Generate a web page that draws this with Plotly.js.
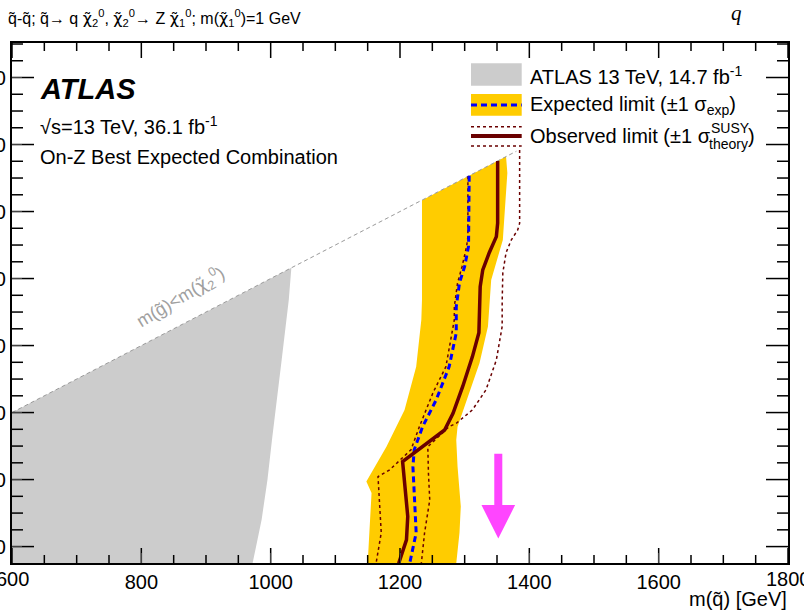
<!DOCTYPE html>
<html><head><meta charset="utf-8">
<script src="https://cdn.plot.ly/plotly-3.0.1.min.js"></script>
<style>html,body{margin:0;padding:0;background:#fff;}#chart{width:804px;height:611px;}</style>
</head><body><div id="chart"></div>
<script>
// ---- data (GeV) ----
const grayX = [600, 600, 1032, 1028, 1017, 1009, 1002, 995, 986, 972];
const grayY = [150, 600, 1032, 936, 757, 638, 518, 399, 280, 150];

const bandLeftX = [1150, 1153, 1156, 1148, 1179, 1207, 1225, 1233, 1234, 1234];
const bandLeftY = [150, 240, 360, 394, 498, 608, 737, 877, 936, 1234];
const bandRightX = [1364, 1366, 1359, 1341, 1338, 1336, 1323, 1307, 1289, 1287, 1289, 1294, 1292, 1287];
const bandRightY = [1364, 1315, 1115, 996, 907, 857, 748, 659, 558, 518, 439, 320, 241, 150];

const expX = [1307, 1307, 1306, 1300, 1292, 1287, 1287, 1276, 1256, 1235, 1222, 1220, 1222, 1225, 1215];
const expY = [1307, 1125, 1096, 1036, 987, 916, 838, 737, 638, 558, 489, 439, 339, 241, 150];

const obsX = [1351, 1351, 1349, 1338, 1328, 1324, 1323, 1322, 1312, 1297, 1282, 1269, 1204, 1207, 1212, 1210, 1198];
const obsY = [1351, 1165, 1125, 1077, 1026, 976, 907, 838, 767, 678, 598, 548, 454, 390, 290, 220, 150];

const obsUpX = [1385, 1385, 1382, 1372, 1364, 1359, 1358, 1358, 1349, 1333, 1312, 1287, 1276, 1243, 1244, 1246, 1238, 1233];
const obsUpY = [1384, 1165, 1145, 1115, 1077, 1017, 930, 857, 757, 668, 608, 568, 558, 498, 419, 339, 241, 150];

const obsDnX = [1305, 1305, 1303, 1296, 1289, 1284, 1284, 1271, 1251, 1230, 1217, 1184, 1166, 1168, 1171, 1163];
const obsDnY = [1305, 1125, 1096, 1036, 987, 916, 877, 737, 659, 558, 489, 429, 409, 339, 241, 150];

const diagX = [600, 1380];
const diagY = [600, 1380];

const arrowX = 1352, arrowTop = 477, arrowHeadBase = 324, arrowTip = 224;

const xRange = [600, 1800];
const yRange = [151, 1703];
const majorStep = 200, minorStep = 50;
const xEdgeLabels = ['600', '1800'];

// ---- layout helpers ----
const W = 804, H = 611, mL = 12, mR = 16, mT = 43, mB = 48;
const pw = W - mL - mR, ph = H - mT - mB;
const px = v => (v - mL) / pw;
const py = v => (H - mB - v) / ph;
const FONT = 'Liberation Sans, Arial, sans-serif';
const DARKRED = '#6a0000';

const bandX = bandLeftX.concat(bandRightX);
const bandY = bandLeftY.concat(bandRightY);

// tick marks, ROOT style: inside on all four sides
const xSpan = xRange[1] - xRange[0], ySpan = yRange[1] - yRange[0];
const tickX = [], tickY = [];
for (let v = Math.ceil(xRange[0] / minorStep) * minorStep; v <= xRange[1]; v += minorStep) {
  const len = (v % majorStep === 0 ? 15 : 8) / ph * ySpan;
  tickX.push(v, v, null, v, v, null);
  tickY.push(yRange[0], yRange[0] + len, null, yRange[1], yRange[1] - len, null);
}
for (let v = Math.ceil(yRange[0] / minorStep) * minorStep; v <= yRange[1]; v += minorStep) {
  const len = (v % majorStep === 0 ? 22 : 11) / pw * xSpan;
  tickX.push(xRange[0], xRange[0] + len, null, xRange[1], xRange[1] - len, null);
  tickY.push(v, v, null, v, v, null);
}

const traces = [
  {x: grayX, y: grayY, type: 'scatter', mode: 'lines', fill: 'toself', fillcolor: '#cccccc', line: {width: 0}},
  {x: bandX, y: bandY, type: 'scatter', mode: 'lines', fill: 'toself', fillcolor: '#ffcc00', line: {width: 0}},
  {x: diagX, y: diagY, type: 'scatter', mode: 'lines', line: {color: '#9a9a9a', width: 1, dash: '4px,3px'}},
  {x: obsUpX, y: obsUpY, type: 'scatter', mode: 'lines', line: {color: DARKRED, width: 1.5, dash: 'dot'}},
  {x: obsDnX, y: obsDnY, type: 'scatter', mode: 'lines', line: {color: DARKRED, width: 1.5, dash: 'dot'}},
  {x: expX, y: expY, type: 'scatter', mode: 'lines', line: {color: '#0000ff', width: 3, dash: '6px,4px'}},
  {x: obsX, y: obsY, type: 'scatter', mode: 'lines', line: {color: DARKRED, width: 3.5}},
  {x: tickX, y: tickY, type: 'scatter', mode: 'lines', connectgaps: false, line: {color: '#000', width: 1.5}}
];

const sw = 6.2, hw = 26;
const arrowPath = `M ${arrowX - sw} ${arrowTop} L ${arrowX + sw} ${arrowTop} L ${arrowX + sw} ${arrowHeadBase} L ${arrowX + hw} ${arrowHeadBase} L ${arrowX} ${arrowTip} L ${arrowX - hw} ${arrowHeadBase} L ${arrowX - sw} ${arrowHeadBase} Z`;

const shapes = [
  {type: 'path', xref: 'x', yref: 'y', path: arrowPath, fillcolor: '#ff45ff', line: {width: 0}},
  {type: 'rect', xref: 'paper', yref: 'paper', x0: px(471), x1: px(521.7), y0: py(85.7), y1: py(63.3), fillcolor: '#cccccc', line: {width: 0}},
  {type: 'rect', xref: 'paper', yref: 'paper', x0: px(471), x1: px(521.7), y0: py(115.7), y1: py(94), fillcolor: '#ffcc00', line: {width: 0}},
  {type: 'line', xref: 'paper', yref: 'paper', x0: px(471), x1: px(521.7), y0: py(105), y1: py(105), line: {color: '#0000ff', width: 3, dash: '6px,4px'}},
  {type: 'line', xref: 'paper', yref: 'paper', x0: px(471), x1: px(521.7), y0: py(126.7), y1: py(126.7), line: {color: DARKRED, width: 1.5, dash: 'dot'}},
  {type: 'line', xref: 'paper', yref: 'paper', x0: px(471), x1: px(521.7), y0: py(146), y1: py(146), line: {color: DARKRED, width: 1.5, dash: 'dot'}},
  {type: 'line', xref: 'paper', yref: 'paper', x0: px(471), x1: px(521.7), y0: py(136), y1: py(136), line: {color: DARKRED, width: 4}}
];

function ann(text, x, y, opts) {
  return Object.assign({text: text, xref: 'paper', yref: 'paper', x: px(x), y: py(y), xanchor: 'left', yanchor: 'middle',
    showarrow: false, font: {family: FONT, size: 20, color: '#000'}}, opts || {});
}
const chi = '<span style="font-family:\'DejaVu Sans\'">χ\u0303</span>';
const annotations = [
  ann('q\u0303-q\u0303; q\u0303→ q ' + chi + '<sub>2</sub><sup>0</sup>, ' + chi + '<sub>2</sub><sup>0</sup>→ Z ' + chi + '<sub>1</sub><sup>0</sup>; m(' + chi + '<sub>1</sub><sup>0</sup>)=1 GeV', 6, 18, {font: {family: FONT, size: 16, color: '#000'}}),
  ann('<i>q</i>', 729, 13, {font: {family: 'Liberation Serif, serif', size: 21, color: '#000'}}),
  ann('<b><i>ATLAS</i></b>', 38, 89, {font: {family: FONT, size: 29, color: '#000'}}),
  ann('√s=13 TeV, 36.1 fb<sup>-1</sup>', 38, 125),
  ann('On-Z Best Expected Combination', 38, 157),
  ann('ATLAS 13 TeV, 14.7 fb<sup>-1</sup>', 528, 75),
  ann('Expected limit (±1 σ<sub>exp</sub>)', 528, 105),
  ann('Observed limit (±1 σ', 528, 136),
  ann('SUSY', 709, 128, {font: {family: FONT, size: 14, color: '#000'}}),
  ann('theory', 707, 144, {font: {family: FONT, size: 14, color: '#000'}}),
  ann(')', 746, 136),
  ann('m(g\u0303)&lt;m(' + chi + '<sub>2</sub><sup>0</sup>)', 180, 297, {xanchor: 'center', textangle: -31, font: {family: FONT, size: 18, color: '#a0a0a0'}}),
  ann('m(q\u0303) [GeV]', 789, 599, {xanchor: 'right'}),
  ann(xEdgeLabels[0], mL, 579, {xanchor: 'center'}),
  ann(xEdgeLabels[1], W - mR, 579, {xanchor: 'center'})
];

const axisCommon = {
  showline: true, linecolor: '#000', linewidth: 2, mirror: true, ticks: 'inside', ticklen: 10,
  showgrid: false, zeroline: false, tickfont: {family: FONT, size: 20, color: '#000'}, automargin: false,
  tickmode: 'linear', dtick: majorStep, tick0: 0
};

const layout = {
  width: W, height: H, margin: {l: mL, r: mR, t: mT, b: mB, pad: 0},
  paper_bgcolor: '#fff', plot_bgcolor: '#fff', showlegend: false,
  xaxis: Object.assign({}, axisCommon, {range: xRange}),
  yaxis: Object.assign({}, axisCommon, {range: yRange}),
  shapes: shapes, annotations: annotations
};

Plotly.newPlot('chart', traces, layout, {staticPlot: true});
</script></body></html>
